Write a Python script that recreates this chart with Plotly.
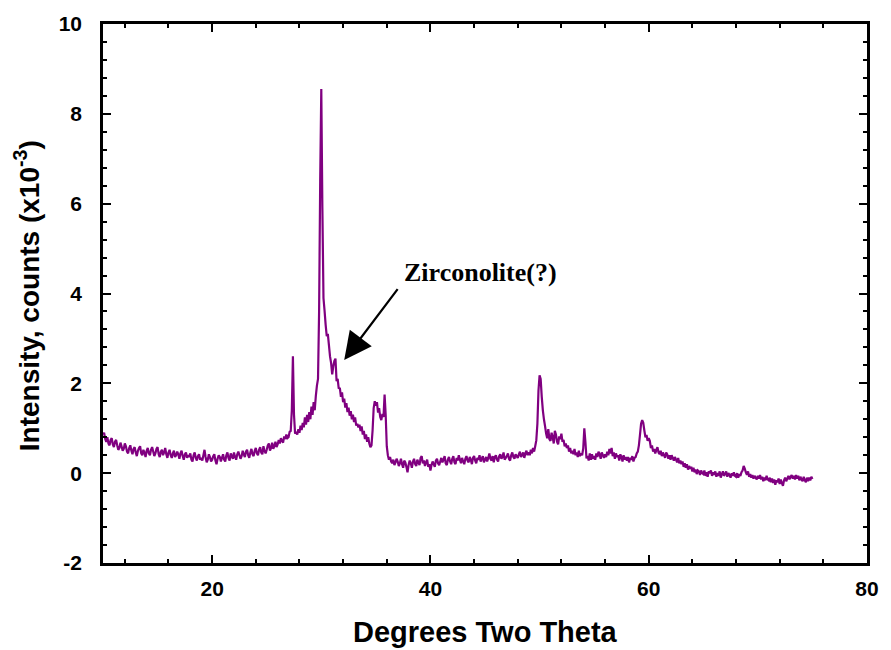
import numpy as np
import plotly.graph_objects as go

# Two-theta grid (degrees), 0.1 step from 10 to 75
two_theta = np.round(np.arange(10.0, 75.05, 0.1), 1)

# Intensity (counts x 10^-3), one row per degree
intensity = [
    0.86, 0.90, 0.76, 0.70, 0.80, 0.66, 0.62, 0.74, 0.78, 0.64,   # 10
    0.58, 0.70, 0.74, 0.62, 0.52, 0.56, 0.68, 0.60, 0.50, 0.54,   # 11
    0.66, 0.60, 0.48, 0.44, 0.56, 0.62, 0.50, 0.42, 0.54, 0.58,   # 12
    0.46, 0.38, 0.50, 0.56, 0.60, 0.44, 0.40, 0.52, 0.46, 0.36,   # 13
    0.50, 0.56, 0.44, 0.40, 0.52, 0.58, 0.48, 0.38, 0.44, 0.54,   # 14
    0.58, 0.42, 0.36, 0.48, 0.52, 0.40, 0.46, 0.56, 0.42, 0.34,   # 15
    0.46, 0.52, 0.40, 0.34, 0.44, 0.50, 0.36, 0.40, 0.48, 0.42,   # 16
    0.32, 0.44, 0.50, 0.38, 0.30, 0.42, 0.46, 0.34, 0.40, 0.36,   # 17
    0.44, 0.30, 0.26, 0.40, 0.46, 0.34, 0.28, 0.38, 0.42, 0.30,   # 18
    0.34, 0.28, 0.40, 0.52, 0.36, 0.24, 0.30, 0.42, 0.36, 0.26,   # 19
    0.30, 0.38, 0.42, 0.28, 0.20, 0.32, 0.40, 0.36, 0.26, 0.34,   # 20
    0.42, 0.30, 0.26, 0.40, 0.46, 0.34, 0.28, 0.44, 0.38, 0.32,   # 21
    0.46, 0.36, 0.30, 0.42, 0.48, 0.40, 0.32, 0.38, 0.50, 0.42,   # 22
    0.36, 0.48, 0.52, 0.40, 0.34, 0.46, 0.54, 0.42, 0.38, 0.50,   # 23
    0.56, 0.44, 0.40, 0.52, 0.58, 0.46, 0.42, 0.60, 0.50, 0.44,   # 24
    0.52, 0.62, 0.66, 0.50, 0.56, 0.68, 0.54, 0.60, 0.70, 0.58,   # 25
    0.64, 0.74, 0.66, 0.78, 0.72, 0.68, 0.82, 0.76, 0.86, 0.78,   # 26
    0.80, 0.92, 0.94, 1.40, 2.60, 1.30, 0.88, 0.92, 0.86, 0.98,   # 27
    0.90, 1.06, 0.96, 1.12, 1.02, 1.24, 1.08, 1.30, 1.14, 1.36,   # 28
    1.20, 1.48, 1.30, 1.58, 1.40, 1.72, 1.95, 2.10, 3.60, 6.50,   # 29
    8.55, 5.90, 3.90, 3.62, 3.30, 3.05, 3.10, 2.85, 2.60, 2.45,   # 30
    2.20, 2.38, 2.50, 2.55, 2.05, 2.10, 1.88, 1.90, 1.70, 1.80,   # 31
    1.58, 1.66, 1.46, 1.56, 1.36, 1.46, 1.28, 1.38, 1.20, 1.30,   # 32
    1.14, 1.24, 1.06, 1.10, 1.02, 1.08, 0.94, 1.04, 0.86, 0.94,   # 33
    0.76, 0.86, 0.70, 0.80, 0.66, 0.58, 0.62, 0.95, 1.45, 1.60,   # 34
    1.50, 1.58, 1.35, 1.45, 1.25, 1.18, 1.32, 1.25, 1.75, 1.30,   # 35
    0.60, 0.40, 0.30, 0.36, 0.26, 0.22, 0.30, 0.18, 0.24, 0.32,   # 36
    0.26, 0.16, 0.22, 0.32, 0.20, 0.12, 0.28, 0.24, 0.14, 0.02,   # 37
    0.18, 0.28, 0.22, 0.12, 0.26, 0.32, 0.20, 0.16, 0.30, 0.24,   # 38
    0.18, 0.34, 0.38, 0.22, 0.28, 0.16, 0.24, 0.30, 0.14, 0.20,   # 39
    0.06, 0.18, 0.26, 0.20, 0.14, 0.28, 0.32, 0.22, 0.18, 0.26,   # 40
    0.34, 0.24, 0.30, 0.38, 0.22, 0.18, 0.30, 0.36, 0.26, 0.20,   # 41
    0.32, 0.38, 0.24, 0.20, 0.34, 0.28, 0.40, 0.30, 0.22, 0.34,   # 42
    0.26, 0.20, 0.32, 0.38, 0.28, 0.24, 0.36, 0.30, 0.20, 0.34,   # 43
    0.38, 0.28, 0.22, 0.34, 0.30, 0.40, 0.26, 0.32, 0.38, 0.24,   # 44
    0.30, 0.36, 0.26, 0.34, 0.44, 0.32, 0.28, 0.38, 0.24, 0.36,   # 45
    0.40, 0.30, 0.26, 0.38, 0.42, 0.32, 0.36, 0.46, 0.30, 0.34,   # 46
    0.38, 0.44, 0.32, 0.28, 0.40, 0.46, 0.36, 0.32, 0.42, 0.38,   # 47
    0.34, 0.42, 0.48, 0.36, 0.40, 0.46, 0.34, 0.44, 0.50, 0.40,   # 48
    0.46, 0.40, 0.52, 0.44, 0.56, 0.48, 0.60, 0.73, 1.10, 1.84,   # 49
    2.18, 2.10, 1.70, 1.40, 1.20, 1.05, 0.88, 0.78, 0.98, 0.76,   # 50
    0.72, 0.90, 0.80, 0.66, 0.94, 0.86, 0.70, 0.64, 0.82, 0.76,   # 51
    0.88, 0.70, 0.74, 0.60, 0.66, 0.56, 0.62, 0.48, 0.56, 0.44,   # 52
    0.50, 0.42, 0.54, 0.40, 0.46, 0.36, 0.50, 0.38, 0.44, 0.40,   # 53
    0.55, 1.00, 0.70, 0.33, 0.38, 0.28, 0.44, 0.30, 0.42, 0.32,   # 54
    0.38, 0.30, 0.44, 0.36, 0.48, 0.42, 0.32, 0.46, 0.40, 0.34,   # 55
    0.42, 0.36, 0.48, 0.40, 0.54, 0.44, 0.56, 0.38, 0.46, 0.32,   # 56
    0.44, 0.36, 0.40, 0.28, 0.42, 0.36, 0.26, 0.40, 0.30, 0.36,   # 57
    0.28, 0.36, 0.24, 0.34, 0.30, 0.38, 0.26, 0.34, 0.36, 0.44,   # 58
    0.48, 0.62, 0.85, 1.10, 1.18, 1.12, 0.95, 0.80, 0.85, 0.72,   # 59
    0.78, 0.72, 0.56, 0.62, 0.48, 0.54, 0.44, 0.52, 0.58, 0.46,   # 60
    0.42, 0.50, 0.38, 0.46, 0.40, 0.34, 0.46, 0.42, 0.32, 0.40,   # 61
    0.30, 0.40, 0.34, 0.28, 0.36, 0.30, 0.24, 0.34, 0.22, 0.28,   # 62
    0.20, 0.26, 0.14, 0.22, 0.12, 0.20, 0.08, 0.16, 0.10, 0.14,   # 63
    0.04, 0.12, 0.02, 0.08, -0.02, 0.06, 0.04, -0.04, 0.06, 0.00,   # 64
    -0.02, 0.06, -0.06, 0.02, -0.08, 0.04, 0.00, 0.06, -0.06, 0.02,   # 65
    -0.04, 0.04, -0.08, 0.00, -0.06, 0.04, -0.10, -0.02, 0.04, -0.06,   # 66
    -0.02, 0.04, -0.08, 0.00, -0.04, -0.10, 0.00, -0.06, 0.02, -0.06,   # 67
    -0.08, 0.00, -0.10, -0.02, -0.06, 0.02, 0.06, 0.16, 0.10, 0.02,     # 68
    -0.04, 0.04, -0.08, -0.02, -0.10, -0.04, -0.12, -0.06, -0.10, -0.14,  # 69
    -0.06, -0.12, -0.04, -0.14, -0.08, -0.18, -0.10, -0.16, -0.06, -0.14,  # 70
    -0.16, -0.10, -0.20, -0.12, -0.22, -0.14, -0.26, -0.16, -0.20, -0.12,  # 71
    -0.24, -0.14, -0.22, -0.28, -0.16, -0.10, -0.18, -0.12, -0.06, -0.14,  # 72
    -0.08, -0.04, -0.12, -0.06, -0.14, -0.04, -0.12, -0.06, -0.16, -0.08,  # 73
    -0.14, -0.18, -0.08, -0.16, -0.20, -0.10, -0.18, -0.10, -0.16, -0.08,  # 74
    -0.13,                                                               # 75
]

x_tickvals = [20, 40, 60, 80]
x_ticktext = ["20", "40", "60", "80"]
y_tickvals = [-2, 0, 2, 4, 6, 8, 10]
y_ticktext = ["-2", "0", "2", "4", "6", "8", "10"]

label_text = "Zirconolite(?)"
label_pos = (44.6, 4.47)
arrow_tip = (32.1, 2.52)
arrow_tail = (37.1, 4.13)

fig = go.Figure()
fig.add_trace(go.Scatter(
    x=two_theta, y=intensity, mode="lines",
    line=dict(color="#800080", width=2.2, simplify=False),
    showlegend=False,
))

axis_common = dict(
    showgrid=False, zeroline=False,
    showline=True, linecolor="black", linewidth=2.5, mirror="allticks",
    ticks="inside", ticklen=8, tickwidth=2, tickcolor="black",
    tickfont=dict(family="Liberation Sans, Arial, sans-serif", size=21, color="black", weight="bold"),
)

fig.update_xaxes(
    range=[10, 80], tickvals=x_tickvals, ticktext=x_ticktext,
    minor=dict(dtick=4, tick0=0, ticks="inside", ticklen=4, tickwidth=1.5, tickcolor="black"),
    ticklabelstandoff=5,
    **axis_common,
)
fig.update_yaxes(
    range=[-2, 10], tickvals=y_tickvals, ticktext=y_ticktext,
    minor=dict(dtick=0.4, tick0=0, ticks="inside", ticklen=4, tickwidth=1.5, tickcolor="black"),
    ticklabelstandoff=14,
    **axis_common,
)

fig.add_annotation(
    x=arrow_tip[0], y=arrow_tip[1], ax=arrow_tail[0], ay=arrow_tail[1],
    xref="x", yref="y", axref="x", ayref="y",
    text="", showarrow=True, arrowhead=2, arrowsize=2.5, arrowwidth=2.2,
    arrowcolor="black", standoff=0, startstandoff=0,
)
fig.add_annotation(
    x=label_pos[0], y=label_pos[1], xref="x", yref="y",
    text="<b>" + label_text + "</b>", showarrow=False,
    font=dict(family="Liberation Serif, Times New Roman, serif", size=26, color="black"),
)

# Axis titles
fig.add_annotation(
    x=0.5, y=-0.128, xref="paper", yref="paper", xanchor="center", yanchor="middle",
    text="<b>Degrees Two Theta</b>", showarrow=False,
    font=dict(family="Liberation Sans, Arial, sans-serif", size=29, color="black"),
)
fig.add_annotation(
    x=-0.1, y=0.496, xref="paper", yref="paper", xanchor="center", yanchor="middle",
    text="<b>Intensity, counts (x10<sup>-3</sup>)</b>", showarrow=False, textangle=-90,
    font=dict(family="Liberation Sans, Arial, sans-serif", size=28, color="black"),
)

fig.update_layout(
    width=891, height=650,
    margin=dict(l=103, r=19, t=23, b=87),
    paper_bgcolor="white", plot_bgcolor="white",
)

fig.write_html("out.html")
